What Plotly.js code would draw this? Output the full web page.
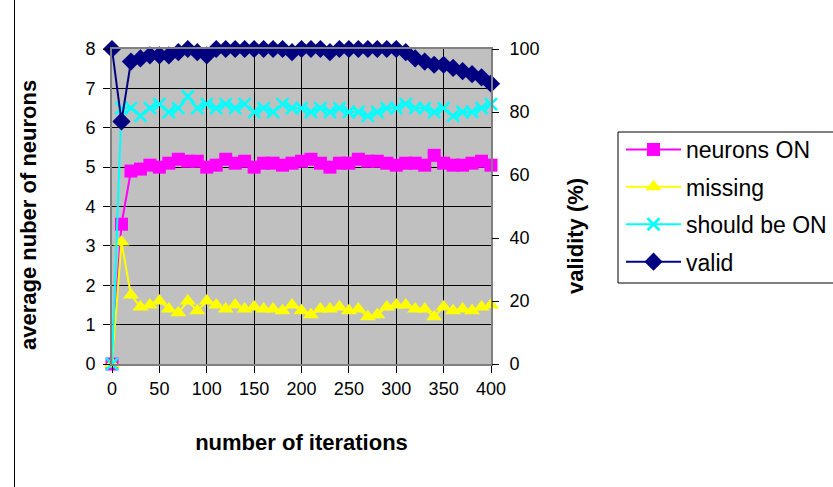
<!DOCTYPE html>
<html>
<head>
<meta charset="utf-8">
<script src="https://cdn.plot.ly/plotly-3.0.1.min.js"></script>
<style>
  html, body { margin: 0; padding: 0; background: #ffffff; }
  #chart { width: 833px; height: 487px; }
</style>
</head>
<body>
<div id="chart"></div>
<script>
// Iteration counts sampled every 10 steps
const iterations = [0, 10, 20, 30, 40, 50, 60, 70, 80, 90, 100, 110, 120, 130, 140, 150, 160, 170, 180, 190, 200,
                    210, 220, 230, 240, 250, 260, 270, 280, 290, 300, 310, 320, 330, 340, 350, 360, 370, 380, 390, 400];

// Average number of neurons (left axis)
const neuronsOn = [0, 3.55, 4.9, 4.95, 5.05, 5.0, 5.1, 5.2, 5.15, 5.15, 5.0, 5.05, 5.2, 5.1, 5.15, 5.0, 5.1, 5.1, 5.05, 5.1, 5.15,
                   5.2, 5.1, 5.0, 5.1, 5.1, 5.2, 5.15, 5.15, 5.1, 5.05, 5.1, 5.1, 5.05, 5.3, 5.1, 5.05, 5.05, 5.1, 5.15, 5.05];
const missing = [0, 3.1, 1.75, 1.45, 1.5, 1.6, 1.4, 1.3, 1.6, 1.35, 1.6, 1.5, 1.4, 1.5, 1.4, 1.45, 1.4, 1.4, 1.35, 1.5, 1.35,
                 1.25, 1.4, 1.4, 1.45, 1.35, 1.4, 1.2, 1.25, 1.45, 1.5, 1.5, 1.4, 1.4, 1.2, 1.45, 1.35, 1.4, 1.35, 1.45, 1.5];
const shouldBeOn = [0, 6.5, 6.5, 6.3, 6.5, 6.6, 6.4, 6.5, 6.8, 6.5, 6.6, 6.5, 6.6, 6.5, 6.6, 6.4, 6.5, 6.4, 6.6, 6.5, 6.5,
                    6.4, 6.5, 6.4, 6.5, 6.4, 6.4, 6.3, 6.4, 6.5, 6.5, 6.6, 6.5, 6.5, 6.4, 6.5, 6.3, 6.4, 6.4, 6.5, 6.6];

// Validity in percent (right axis)
const valid = [100, 77, 96, 97, 98, 98, 98, 99, 100, 99, 98, 100, 100, 100, 100, 100, 100, 100, 100, 99, 100,
               100, 100, 99, 100, 100, 100, 100, 100, 100, 100, 99, 97, 96, 95, 95, 94, 93, 92, 91, 89];

const seriesNames = ['neurons ON', 'missing', 'should be ON', 'valid'];

const FONT = 'Arial, "Liberation Sans", sans-serif';

// Pixel frame of the plotting area inside the 833x487 page
const W = 833, H = 487;
const PL = 112, PR = 491, PT = 49, PB = 364;
const px = x => (x - PL) / (PR - PL);
const py = y => (PB - y) / (PB - PT);

const traces = [
  {
    x: iterations, y: neuronsOn, name: seriesNames[0], legendgroup: 'g1',
    type: 'scatter', mode: 'lines+markers', cliponaxis: false,
    line: { color: '#ff00ff', width: 2 },
    marker: { symbol: 'square', size: 13, color: '#ff00ff' }
  },
  {
    x: iterations, y: missing, name: seriesNames[1], legendgroup: 'g2',
    type: 'scatter', mode: 'lines+markers', cliponaxis: false,
    line: { color: '#ffff00', width: 2 },
    marker: { symbol: 'triangle-up', size: 14, color: '#ffff00' }
  },
  {
    x: iterations, y: shouldBeOn, name: seriesNames[2], legendgroup: 'g3',
    type: 'scatter', mode: 'lines+markers', cliponaxis: false,
    line: { color: '#00ffff', width: 2 },
    marker: { symbol: 'x-thin', size: 12, color: '#00ffff', line: { color: '#00ffff', width: 2.5 } }
  },
  {
    x: iterations, y: valid, name: seriesNames[3], legendgroup: 'g4', yaxis: 'y2',
    type: 'scatter', mode: 'lines+markers', cliponaxis: false,
    line: { color: '#000080', width: 2 },
    marker: { symbol: 'diamond', size: 14, color: '#000080' }
  }
];

const tickFont = { family: FONT, size: 18, color: '#000000' };
const titleFont = { family: FONT, size: 22, color: '#000000', weight: 'bold' };

const layout = {
  width: W, height: H,
  margin: { l: PL, r: W - PR, t: PT, b: H - PB, pad: 0, autoexpand: false },
  paper_bgcolor: '#ffffff',
  plot_bgcolor: '#c0c0c0',
  showlegend: true,
  xaxis: {
    range: [0, 400], tickmode: 'linear', tick0: 0, dtick: 50,
    ticks: 'outside', ticklen: 7, tickcolor: '#000000', tickwidth: 1,
    showgrid: true, gridcolor: '#000000', gridwidth: 1, zeroline: false,
    showline: true, linecolor: '#808080', linewidth: 2, mirror: true,
    tickfont: tickFont,
    title: { text: 'number of iterations', font: titleFont, standoff: 37 }
  },
  yaxis: {
    range: [0, 8], tickmode: 'linear', tick0: 0, dtick: 1,
    ticks: 'outside', ticklen: 7, tickcolor: '#000000', tickwidth: 1,
    showgrid: true, gridcolor: '#000000', gridwidth: 1, zeroline: false,
    showline: true, linecolor: '#808080', linewidth: 2, mirror: true,
    tickfont: tickFont, ticklabelstandoff: 4
  },
  yaxis2: {
    range: [0, 100], tickmode: 'linear', tick0: 0, dtick: 20,
    overlaying: 'y', side: 'right', anchor: 'x',
    ticks: 'outside', ticklen: 7, tickcolor: '#000000', tickwidth: 1,
    showgrid: false, zeroline: false, showline: false,
    tickfont: tickFont, ticklabelstandoff: 7
  },
  // inner half of the crossing tick marks on the right-hand scale
  yaxis3: {
    range: [0, 100], tickmode: 'linear', tick0: 0, dtick: 20,
    overlaying: 'y', side: 'right', anchor: 'x',
    ticks: 'inside', ticklen: 8, tickcolor: '#000000', tickwidth: 1,
    showgrid: false, zeroline: false, showline: false, showticklabels: false
  },
  legend: {
    x: px(621), y: py(128), xanchor: 'left', yanchor: 'top',
    bgcolor: 'rgba(0,0,0,0)', borderwidth: 0,
    font: { family: FONT, size: 23, color: '#000000' },
    tracegroupgap: 4.5, itemwidth: 55, traceorder: 'grouped'
  },
  annotations: [
    {
      text: '<b>average nuber of neurons</b>', textangle: -90,
      xref: 'paper', yref: 'paper', x: px(28), y: py(215),
      xanchor: 'center', yanchor: 'middle', showarrow: false,
      font: titleFont
    },
    {
      text: '<b>validity (%)</b>', textangle: -90,
      xref: 'paper', yref: 'paper', x: px(575), y: py(236),
      xanchor: 'center', yanchor: 'middle', showarrow: false,
      font: titleFont
    }
  ],
  shapes: [
    // legend frame
    {
      type: 'rect', xref: 'paper', yref: 'paper',
      x0: px(618), x1: px(845), y0: py(283), y1: py(132),
      line: { color: '#000000', width: 1 }, fillcolor: 'rgba(0,0,0,0)'
    },
    // chart area border on the left
    {
      type: 'line', xref: 'paper', yref: 'paper',
      x0: px(14.5), x1: px(14.5), y0: py(0), y1: py(H),
      line: { color: '#000000', width: 1 }
    }
  ]
};

Plotly.newPlot('chart', traces, layout, { displayModeBar: false, staticPlot: true });
</script>
</body>
</html>
